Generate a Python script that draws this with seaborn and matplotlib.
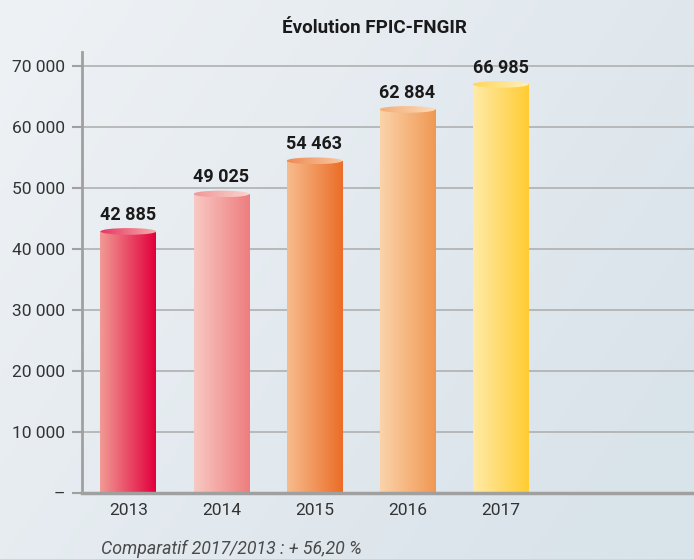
import matplotlib
matplotlib.use("Agg")
import matplotlib.pyplot as plt
import numpy as np
import pandas as pd
import seaborn as sns
from matplotlib.colors import to_rgb
from matplotlib.patches import Ellipse

# Données
annees = ["2013", "2014", "2015", "2016", "2017"]
montants = [42885, 49025, 54463, 62884, 66985]
etiquettes = ["42 885", "49 025", "54 463", "62 884", "66 985"]
graduations = [0, 10000, 20000, 30000, 40000, 50000, 60000, 70000]
libelles_y = ["–", "10 000", "20 000", "30 000", "40 000", "50 000", "60 000", "70 000"]
titre = "Évolution FPIC-FNGIR"
note = "Comparatif 2017/2013 : + 56,20 %"

# couleurs des cylindres (gauche -> droite)
couleurs_gauche = ["#F19A94", "#F8C9C3", "#F7BC8E", "#FBD3AA", "#FFEBA8"]
couleurs_droite = ["#E2003C", "#EE7D7E", "#EB6D27", "#F09853", "#FFCC33"]

sns.set_theme(style="white")
plt.rcParams["font.family"] = ["Roboto", "DejaVu Sans"]

df = pd.DataFrame({"annee": annees, "montant": montants})

fig = plt.figure(figsize=(6.94, 5.59), dpi=100)

# fond dégradé
fond = fig.add_axes([0, 0, 1, 1], zorder=-1)
xx, yy = np.meshgrid(np.linspace(0, 1, 200), np.linspace(0, 1, 200))
t = np.clip((xx * 0.7 + yy * 0.4), 0, 1)[..., None]
c0 = np.array(to_rgb("#EFF2F5"))
c1 = np.array(to_rgb("#D9E3EA"))
fond.imshow(c0 * (1 - t) + c1 * t, extent=[0, 1, 0, 1], aspect="auto", origin="upper")
fond.axis("off")

ax = fig.add_axes([0.118, 0.118, 0.882, 0.789])
ax.set_facecolor("none")

sns.barplot(data=df, x="annee", y="montant", ax=ax, width=0.6, color="white", saturation=1)

def degrade(gauche, droite, n=100):
    a = np.array(to_rgb(gauche))
    b = np.array(to_rgb(droite))
    s = np.linspace(0, 1, n)[None, :, None]
    return a * (1 - s) + b * s

ellipse_h = 1100
for i, p in enumerate(ax.patches):
    x0 = p.get_x()
    w = p.get_width()
    h = p.get_height()
    p.set_facecolor("none")
    p.set_edgecolor("none")
    img = degrade(couleurs_gauche[i], couleurs_droite[i])
    im = ax.imshow(img, extent=[x0, x0 + w, 0, h], aspect="auto", zorder=2)
    im.set_clip_path(p)
    # dessus du cylindre
    el = Ellipse((x0 + w / 2, h), w, ellipse_h, facecolor="none", edgecolor="none", zorder=3)
    ax.add_patch(el)
    clair = 0.8 * degrade(couleurs_gauche[i], couleurs_droite[i]) + 0.2 * np.ones(3)
    im2 = ax.imshow(clair[:, ::-1], extent=[x0, x0 + w, h - ellipse_h / 2, h + ellipse_h / 2],
                    aspect="auto", zorder=3)
    im2.set_clip_path(el)
    ax.text(x0 + w / 2, h + 1950, etiquettes[i], ha="center", va="baseline",
            fontsize=13, fontweight="bold", color="#1A1A1A", zorder=4)

ax.set_xlim(-0.5, 6.08)
ax.set_ylim(0, 72300)

ax.set_yticks(graduations)
ax.set_yticklabels(libelles_y)
ax.yaxis.grid(True, color="#ABABAB", linewidth=1.1)
ax.set_axisbelow(True)
ax.set_xlabel("")
ax.set_ylabel("")

for cote in ["top", "right"]:
    ax.spines[cote].set_visible(False)
ax.spines["left"].set_color("#A0A0A0")
ax.spines["left"].set_linewidth(2)
ax.spines["bottom"].set_color("#A0A0A0")
ax.spines["bottom"].set_linewidth(2.5)

ax.tick_params(axis="y", length=7, width=1.5, color="#A0A0A0", pad=5,
               labelsize=12.5, labelcolor="#333333", left=True)
ax.tick_params(axis="x", length=0, pad=7, labelsize=12.5, labelcolor="#333333")

fig.text(0.540, 0.95, titre, ha="center", va="center", fontsize=13.5,
         fontweight="bold", color="#1A1A1A")
fig.text(0.145, 0.018, note, ha="left", va="center", fontsize=12.8,
         fontstyle="italic", color="#4A4A4A")

fig.savefig("out.png", dpi=100)
